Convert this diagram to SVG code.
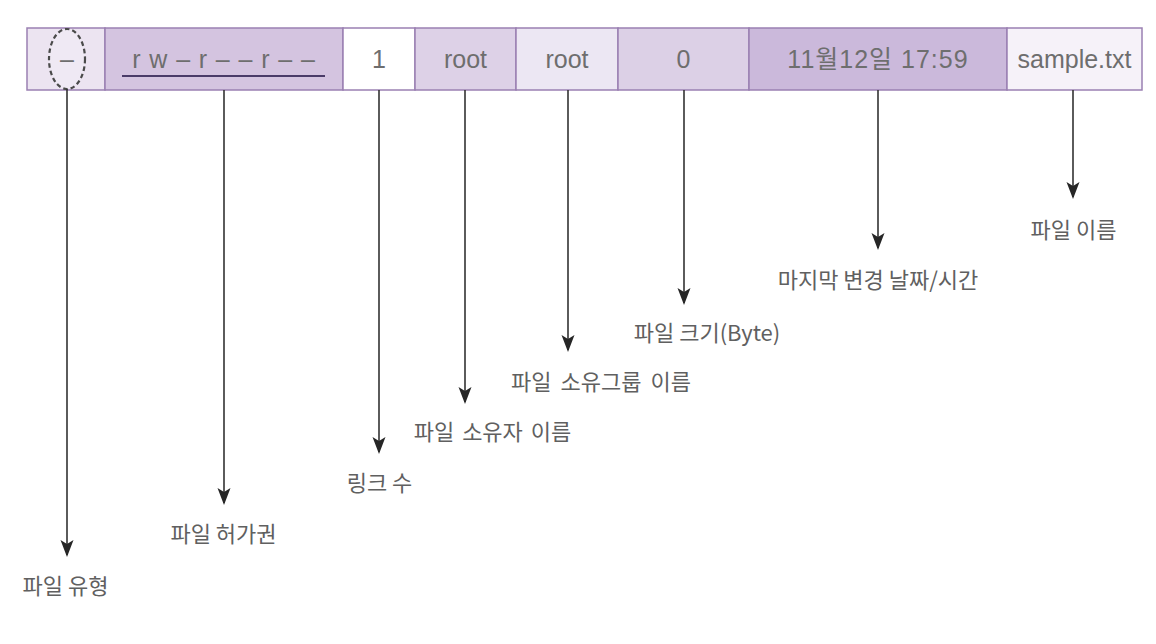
<svg xmlns="http://www.w3.org/2000/svg" width="1156" height="644" viewBox="0 0 1156 644">
<defs>
<style>
.cell{stroke:#9a80b2;stroke-width:1.5}
.ct{font-family:"Liberation Sans","Noto Sans CJK KR",sans-serif;font-size:25px;fill:#6e6e6e;text-anchor:middle}
.lb{font-family:"Noto Sans CJK KR","Liberation Sans",sans-serif;font-size:22px;fill:#606060;text-anchor:middle}
.ar{stroke:#333;stroke-width:1.6;fill:none;marker-end:url(#ah)}
</style>
<marker id="ah" markerUnits="userSpaceOnUse" markerWidth="20" markerHeight="20" refX="0" refY="0" orient="auto" overflow="visible">
<path d="M2,0 L-15,-6.5 L-11,0 L-15,6.5 Z" fill="#262626"/>
</marker>
</defs>
<rect width="1156" height="644" fill="#fff"/>
<g id="cell-type"><rect class="cell" x="27" y="28" width="78" height="62" fill="#ece4f1"/><ellipse cx="67" cy="59" rx="18" ry="30" fill="#efe9f4" stroke="#4a4a4a" stroke-width="2.2" stroke-dasharray="4.5,3"/><text class="ct" x="67" y="68">–</text></g>
<g id="cell-perm"><rect class="cell" x="105" y="28" width="238" height="62" fill="#d4c4e0"/><text class="ct" x="224" y="68" letter-spacing="0.9">r w – r – – r – –</text><line x1="122" y1="76" x2="325" y2="76" stroke="#4a3b68" stroke-width="2.2"/></g>
<g id="cell-link"><rect class="cell" x="343" y="28" width="72" height="62" fill="#ffffff"/><text class="ct" x="379" y="68">1</text></g>
<g id="cell-owner"><rect class="cell" x="415" y="28" width="101" height="62" fill="#ddd1e7"/><text class="ct" x="465.5" y="68">root</text></g>
<g id="cell-group"><rect class="cell" x="516" y="28" width="102" height="62" fill="#ece7f3"/><text class="ct" x="567" y="68">root</text></g>
<g id="cell-size"><rect class="cell" x="618" y="28" width="131" height="62" fill="#dcd0e6"/><text class="ct" x="683.5" y="68">0</text></g>
<g id="cell-date"><rect class="cell" x="749" y="28" width="258" height="62" fill="#cbb9db"/><text class="ct" x="878" y="68" letter-spacing="1">11월12일 17:59</text></g>
<g id="cell-name"><rect class="cell" x="1007" y="28" width="135" height="62" fill="#f6f2f9"/><text class="ct" x="1074.5" y="68">sample.txt</text></g>
<g id="connectors">
<line class="ar" x1="67" y1="89" x2="67" y2="555"/>
<line class="ar" x1="224" y1="90" x2="224" y2="503"/>
<line class="ar" x1="379" y1="90" x2="379" y2="452"/>
<line class="ar" x1="465" y1="90" x2="465" y2="402"/>
<line class="ar" x1="568" y1="90" x2="568" y2="350"/>
<line class="ar" x1="684" y1="90" x2="684" y2="303"/>
<line class="ar" x1="878" y1="90" x2="878" y2="248"/>
<line class="ar" x1="1073" y1="90" x2="1073" y2="197"/>
</g>
<g id="label-type"><text class="lb" x="65.5" y="594">파일 유형</text></g>
<g id="label-perm"><text class="lb" x="223.5" y="542">파일 허가권</text></g>
<g id="label-link"><text class="lb" x="379.5" y="491">링크 수</text></g>
<g id="label-owner"><text class="lb" x="492.5" y="440" word-spacing="3">파일 소유자 이름</text></g>
<g id="label-group"><text class="lb" x="601" y="390" word-spacing="4">파일 소유그룹 이름</text></g>
<g id="label-size"><text class="lb" x="707" y="341">파일 크기(Byte)</text></g>
<g id="label-date"><text class="lb" x="878" y="288">마지막 변경 날짜/시간</text></g>
<g id="label-name"><text class="lb" x="1073.5" y="238">파일 이름</text></g>
</svg>
